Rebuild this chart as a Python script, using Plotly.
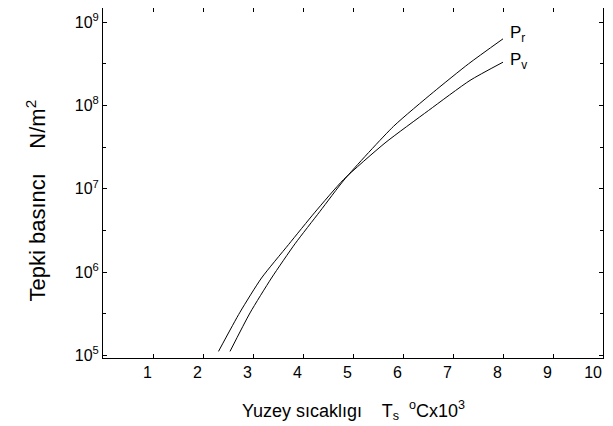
import plotly.graph_objects as go

# Surface temperature (x10^3 °C) and pressures (N/m^2)
T_r = [2.54, 2.94, 3.37, 3.84, 4.34, 4.84, 5.81, 6.61, 7.31, 8.0]
P_r = [1.12e5, 3.24e5, 8.51e5, 2.19e6, 5.37e6, 1.32e7, 5.62e7, 1.45e8, 3.16e8, 6.31e8]

T_v = [2.31, 2.74, 3.17, 3.71, 4.24, 4.81, 5.64, 6.51, 7.34, 8.0]
P_v = [1.12e5, 3.31e5, 8.51e5, 2.14e6, 5.25e6, 1.29e7, 3.55e7, 8.71e7, 2.0e8, 3.31e8]

x_ticks = [1, 2, 3, 4, 5, 6, 7, 8, 9, 10]
x_labels = ["1", "2", "3", "4", "5", "6", "7", "8", "9", "10"]
y_exps = [5, 6, 7, 8, 9]

FONT = "Liberation Sans, Arial, sans-serif"

fig = go.Figure()
fig.add_trace(go.Scatter(x=T_r, y=P_r, mode="lines",
                         line=dict(color="black", width=1, shape="spline", smoothing=0.6), name="Pr"))
fig.add_trace(go.Scatter(x=T_v, y=P_v, mode="lines",
                         line=dict(color="black", width=1, shape="spline", smoothing=0.6), name="Pv"))

# page body has an 8px margin, so the figure is sized/offset to compensate
fig.update_layout(
    width=605, height=418,
    margin=dict(l=95, r=10, t=0, b=68),
    paper_bgcolor="white", plot_bgcolor="white",
    showlegend=False,
    font=dict(family=FONT, color="black"),
)
fig.update_xaxes(
    range=[0, 10], tickvals=x_ticks, ticktext=x_labels, ticklabelposition="outside left",
    ticks="inside", ticklen=4, tickcolor="black",
    showline=True, linecolor="black", linewidth=1, mirror="ticks",
    showgrid=False, zeroline=False, tickfont=dict(size=16, family=FONT),
)
fig.update_yaxes(
    type="log", range=[4.97, 9.17],
    tickvals=[10 ** e for e in y_exps], ticktext=["10<sup>%d</sup>" % e for e in y_exps],
    ticks="inside", ticklen=4, tickcolor="black",
    minor=dict(tickvals=[10 ** (e + 0.5) for e in [4, 5, 6, 7, 8]], ticks="inside", ticklen=3, tickcolor="black"),
    showline=True, linecolor="black", linewidth=1, mirror="ticks",
    showgrid=False, zeroline=False, tickfont=dict(size=16, family=FONT),
)
fig.add_annotation(x=0.5, y=0, xref="paper", yref="paper", yshift=-52, xanchor="center", yanchor="middle",
                   text="Yuzey sıcaklıgı    T<sub>s</sub>  <sup>o</sup>Cx10<sup>3</sup>", showarrow=False,
                   font=dict(size=18, family=FONT))
fig.add_annotation(x=0, y=0.45, xref="paper", yref="paper", xshift=-68, xanchor="center", yanchor="middle",
                   text="Tepki basıncı    N/m<sup>2</sup>", textangle=-90, showarrow=False,
                   font=dict(size=22, family=FONT))
fig.add_annotation(x=8.1, y=8.86, xref="x", yref="y", xanchor="left", yanchor="middle",
                   text="P<sub>r</sub>", showarrow=False, font=dict(size=17, family=FONT))
fig.add_annotation(x=8.1, y=8.54, xref="x", yref="y", xanchor="left", yanchor="middle",
                   text="P<sub>v</sub>", showarrow=False, font=dict(size=17, family=FONT))

fig.write_html("out.html")
